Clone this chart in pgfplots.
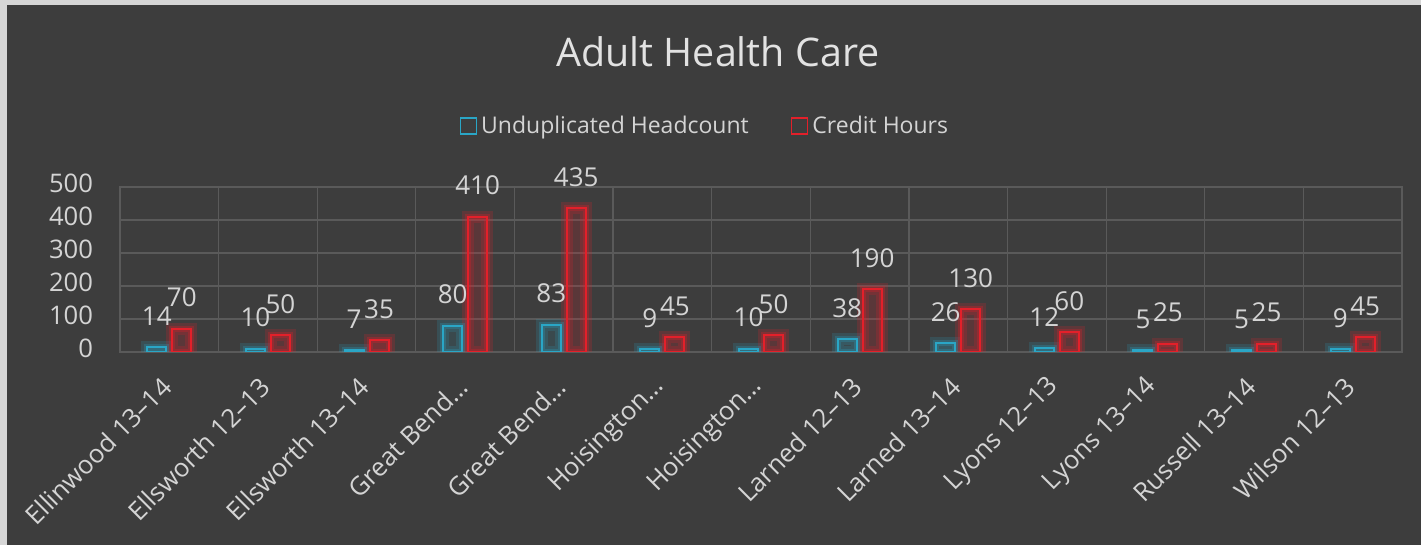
\documentclass[border=0pt]{standalone}
\usepackage{pgfplots}
\usepackage{pgfplotstable}
\pgfplotsset{compat=1.18}
\usepackage{fontspec}
\setmainfont{Open Sans}
\definecolor{bg}{HTML}{3D3D3D}
\definecolor{bordercol}{HTML}{D6D6D6}
\definecolor{gridcol}{HTML}{5A5A5A}
\definecolor{txt}{HTML}{D4D4D4}
\definecolor{titlecol}{HTML}{E2E2E2}
\definecolor{cyanbar}{HTML}{2AA6C6}
\definecolor{redbar}{HTML}{E3202A}
\pgfplotstableread{
x hc ch
0 14 70
1 10 50
2 7 35
3 80 410
4 83 435
5 9 45
6 10 50
7 38 190
8 26 130
9 12 60
10 5 25
11 5 25
12 9 45
}\datatable
\begin{document}
\begin{tikzpicture}
\fill[bordercol] (-60pt,-96.5pt) rectangle (650.5pt,176pt);
\fill[bg] (-56.5pt,-96.5pt) rectangle (650.5pt,173.5pt);
\node[anchor=base, text=titlecol, font=\fontsize{19.7}{22}\selectfont] at (299pt,142.5pt) {Adult Health Care};
\begin{axis}[
  at={(0,0)}, anchor=south west, scale only axis,
  width=641pt, height=82.5pt,
  xmin=-0.5, xmax=12.5, ymin=0, ymax=500,
  ybar,
  xtick={0,...,12},
  xticklabels={Ellinwood 13–14, Ellsworth 12–13, Ellsworth 13–14, Great Bend…, Great Bend…, Hoisington…, Hoisington…, Larned 12–13, Larned 13–14, Lyons 12–13, Lyons 13–14, Russell 13–14, Wilson 12–13},
  minor xtick={-0.5,0.5,...,12.5},
  ytick={0,100,...,500},
  xminorgrids, ymajorgrids,
  major tick length=0pt, minor tick length=0pt,
  grid style={gridcol, line width=0.6pt},
  minor grid style={gridcol, line width=0.6pt},
  axis line style={gridcol, line width=0.6pt},
  /pgf/number format/assume math mode=true,
  tick label style={text=txt, font=\fontsize{12.8}{14}\selectfont},
  yticklabel style={anchor=east, xshift=-10pt, yshift=2pt},
  xticklabel style={rotate=45, anchor=east, xshift=-8.2pt, yshift=-9.95pt},
  every node near coord/.append style={text=txt, font=\fontsize{13}{14}\selectfont, anchor=south, yshift=7pt},
  legend style={draw=none, fill=none, text=txt, font=\fontsize{11.5}{14}\selectfont,
    at={(0.457,1.37)}, anchor=center, legend columns=2,
    /tikz/every even column/.append style={column sep=19pt}},
]
% glow layers
\addplot[forget plot, bar width=9.5pt, bar shift=-6.25pt, draw=cyanbar, draw opacity=0.18, line width=6pt, fill=cyanbar, fill opacity=0.12] table[x=x,y=hc]{\datatable};
\addplot[forget plot, bar width=9.5pt, bar shift=6.25pt, draw=redbar, draw opacity=0.2, line width=6pt, fill=redbar, fill opacity=0.18] table[x=x,y=ch]{\datatable};
\addplot[forget plot, bar width=9.5pt, bar shift=-6.25pt, draw=cyanbar, draw opacity=0.25, line width=3pt, fill=none] table[x=x,y=hc]{\datatable};
\addplot[forget plot, bar width=9.5pt, bar shift=6.25pt, draw=redbar, draw opacity=0.28, line width=3pt, fill=none] table[x=x,y=ch]{\datatable};
% main bars
\addplot[bar width=9.5pt, bar shift=-6.25pt, draw=cyanbar, line width=1pt, fill=none, nodes near coords,
  legend image code/.code={\draw[draw=cyanbar, line width=0.8pt, fill=none] (0pt,-4pt) rectangle (8pt,4pt);}] table[x=x,y=hc]{\datatable};
\addplot[bar width=9.5pt, bar shift=6.25pt, draw=redbar, line width=1pt, fill=none, nodes near coords,
  legend image code/.code={\draw[draw=redbar, line width=0.8pt, fill=none] (0pt,-4pt) rectangle (8pt,4pt);}] table[x=x,y=ch]{\datatable};
\legend{Unduplicated Headcount, Credit Hours}
\end{axis}
\pgfresetboundingbox
\path[use as bounding box] (-60pt,-96.5pt) rectangle (650.5pt,176pt);
\end{tikzpicture}
\end{document}
